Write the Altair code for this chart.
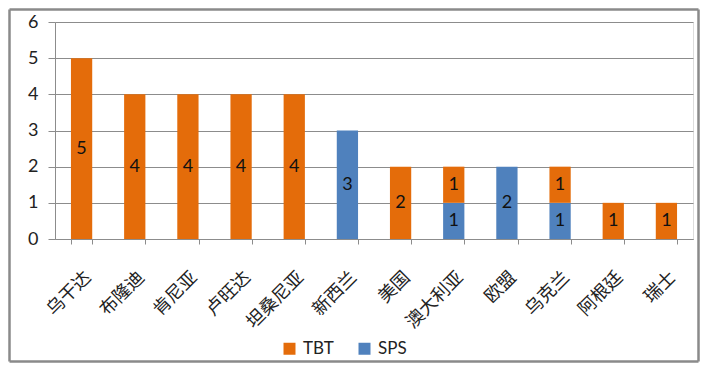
import altair as alt
import pandas as pd

categories = ["乌干达", "布隆迪", "肯尼亚", "卢旺达", "坦桑尼亚", "新西兰", "美国", "澳大利亚", "欧盟", "乌克兰", "阿根廷", "瑞士"]
tbt = [5, 4, 4, 4, 4, 0, 2, 1, 0, 1, 1, 1]
sps = [0, 0, 0, 0, 0, 3, 0, 1, 2, 1, 0, 0]
series = ["TBT", "SPS"]
colors = ["#E46C0A", "#4F81BD"]
y_ticks = [0, 1, 2, 3, 4, 5, 6]

rows = []
for c, t, s in zip(categories, tbt, sps):
    if s:
        rows.append({"国家": c, "类型": "SPS", "数量": s, "次序": 0})
    if t:
        rows.append({"国家": c, "类型": "TBT", "数量": t, "次序": 1})
df = pd.DataFrame(rows)

W, H = 638, 217
grid_color = "#8C8C8C"

base = alt.Chart(df).transform_stack(
    stack="数量", groupby=["国家"], as_=["y0", "y1"], sort=[alt.SortField("次序", order="ascending")]
).transform_calculate(mid="(datum.y0 + datum.y1) / 2")

x_axis = alt.Axis(labelAngle=-45, labelFont="Noto Sans CJK SC", labelFontSize=18,
                  labelColor="#222222", labelPadding=24, tickBand="extent",
                  tickColor=grid_color, domainColor=grid_color, tickSize=5, grid=False,
                  labelOverlap=False)
x_scale = alt.Scale(paddingInner=0.6, paddingOuter=0.3)
y_axis = alt.Axis(values=y_ticks, labelFont="Lato", labelFontSize=18,
                  labelColor="#222222", labelOverlap=False,
                  tickColor=grid_color, domainColor=grid_color, gridColor=grid_color,
                  tickSize=7, labelPadding=10, grid=True)
y_scale = alt.Scale(domain=[0, 6], nice=False)

bars = base.mark_bar().encode(
    x=alt.X("国家:N", sort=categories, title=None, scale=x_scale, axis=x_axis),
    y=alt.Y("y0:Q", title=None, scale=y_scale, axis=y_axis),
    y2="y1:Q",
    color=alt.Color("类型:N", scale=alt.Scale(domain=series, range=colors),
                    legend=alt.Legend(title=None, orient="none", direction="horizontal",
                                      legendX=226, legendY=318, symbolType="square",
                                      symbolSize=144, symbolStrokeWidth=0, labelFont="Lato",
                                      labelFontSize=17, labelColor="#222222", columnPadding=22,
                                      labelOffset=5)),
)

labels = base.mark_text(font="Lato", fontSize=18, color="#111111").encode(
    x=alt.X("国家:N", sort=categories, title=None, scale=x_scale, axis=x_axis),
    y=alt.Y("mid:Q", title=None, scale=y_scale, axis=y_axis),
    text=alt.Text("数量:Q"),
)

one = pd.DataFrame({"a": [0]})
bc = "#8A8A8A"
bw = 2.5
L, R, T, B = -45.5, 643.5, -12.5, 339.5
border = [
    alt.Chart(one).mark_rule(color=bc, strokeWidth=bw).encode(x=alt.value(L), x2=alt.value(R), y=alt.value(T)),
    alt.Chart(one).mark_rule(color=bc, strokeWidth=bw).encode(x=alt.value(L), x2=alt.value(R), y=alt.value(B)),
    alt.Chart(one).mark_rule(color=bc, strokeWidth=bw).encode(y=alt.value(T), y2=alt.value(B), x=alt.value(L)),
    alt.Chart(one).mark_rule(color=bc, strokeWidth=bw).encode(y=alt.value(T), y2=alt.value(B), x=alt.value(R)),
]

chart = alt.layer(bars, labels, *border).properties(
    width=W, height=H,
    autosize=alt.AutoSizeParams(type="none"),
    padding={"left": 47, "top": 14, "right": 7, "bottom": 124},
).configure_view(stroke=None).configure(background="white")

chart.save("out.html", embed_options={"renderer": "svg", "actions": False})
